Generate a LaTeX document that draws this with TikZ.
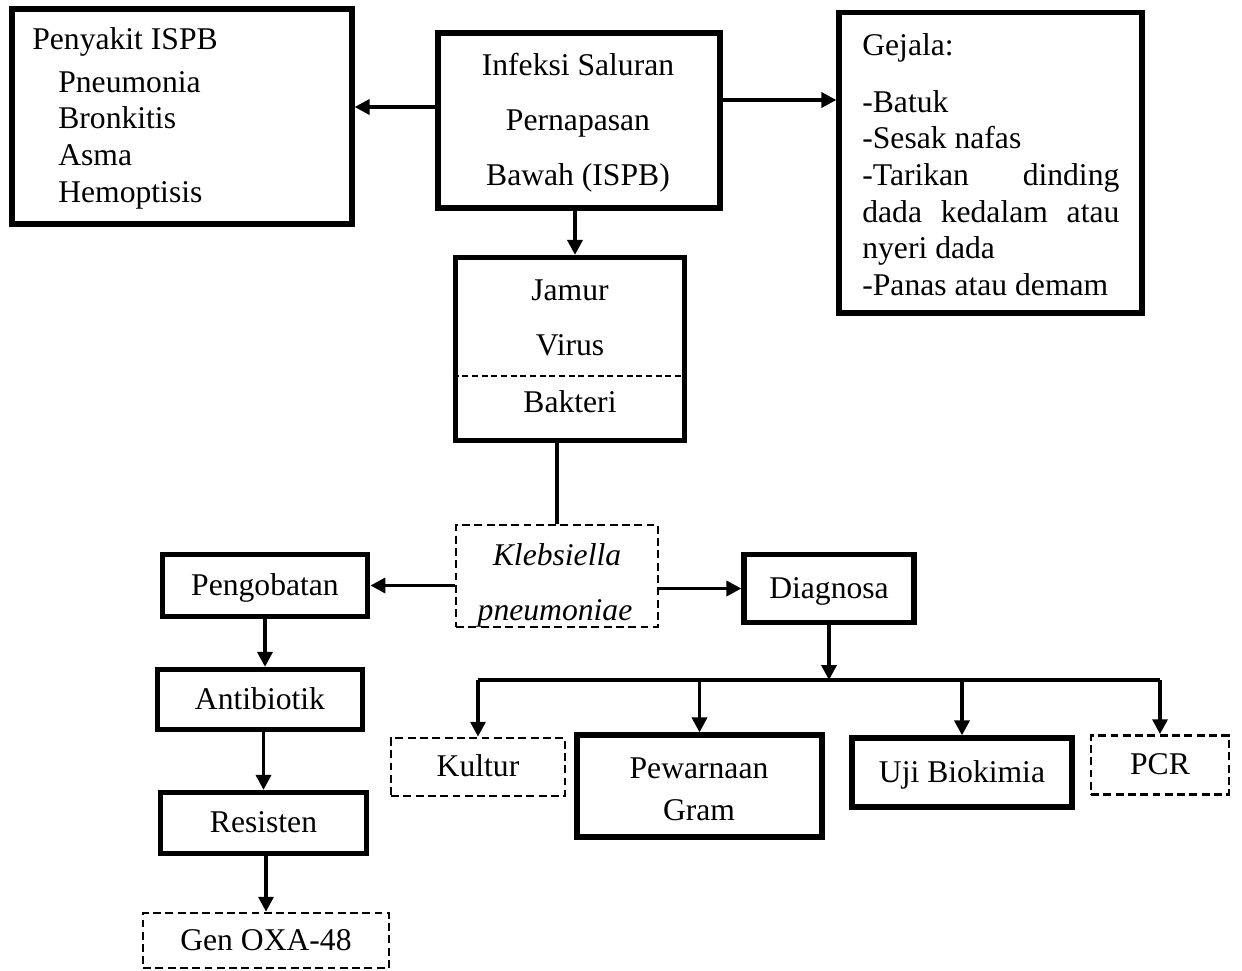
\documentclass[tikz,border=0pt]{standalone}
\usepackage{fontspec}
\setmainfont{Liberation Serif}
\usetikzlibrary{arrows.meta}
\begin{document}
\begin{tikzpicture}[x=0.02cm,y=-0.02cm,
  every node/.style={font=\fontsize{18}{21}\selectfont, inner sep=0pt},
  sbox/.style={draw, line width=3pt},
  dbox/.style={draw, line width=1.5pt, dash pattern=on 4.5pt off 2.5pt},
  one/.style={text height=13.5pt, text depth=2.2pt},
  arr/.style={-{Triangle[length=8.5pt,width=8.5pt]}, line width=2pt},
  link/.style={line width=2pt},
  divider/.style={line width=1pt, dash pattern=on 3.5pt off 2pt}]
\fill[white] (0,0) rectangle (1242,971);
\useasboundingbox (0,0) rectangle (1242,971);

% boxes
\node[sbox, minimum width=6.8cm, minimum height=4.3cm] (peny) at (182,116.5) {};
\node[sbox, minimum width=5.64cm, minimum height=3.5cm] (inf) at (579,120.5) {};
\node[sbox, minimum width=6.06cm, minimum height=6.01cm] (gej) at (990.5,162.75) {};
\node[sbox, minimum width=4.59cm, minimum height=3.66cm] (mik) at (570,349) {};
\node[dbox, minimum width=4.04cm, minimum height=2.04cm] (kleb) at (557,576) {};
\node[sbox, one, minimum width=4.11cm, minimum height=1.24cm] (peng) at (265,585.5) {Pengobatan};
\node[sbox, one, minimum width=4.1cm, minimum height=1.2cm] (anti) at (260,699.5) {Antibiotik};
\node[sbox, one, minimum width=4.12cm, minimum height=1.22cm] (res) at (263.5,823) {Resisten};
\node[dbox, one, minimum width=4.92cm, minimum height=1.1cm] (gen) at (266,940.5) {Gen OXA-48};
\node[sbox, one, minimum width=3.4cm, minimum height=1.36cm] (diag) at (829,588.5) {Diagnosa};
\node[dbox, one, minimum width=3.48cm, minimum height=1.16cm] (kul) at (478,767) {Kultur};
\node[sbox, minimum width=4.9cm, minimum height=2.04cm] (pew) at (699.5,786) {};
\node[sbox, one, minimum width=4.4cm, minimum height=1.38cm] (uji) at (962,772.5) {Uji Biokimia};
\node[dbox, one, minimum width=2.76cm, minimum height=1.18cm] (pcr) at (1160,765) {PCR};

% texts of multi-line boxes
\node[anchor=base west] (p1) at (32,49) {Penyakit ISPB};
\node[anchor=base west] (p2) at (58,92) {Pneumonia};
\node[anchor=base west] (p3) at (58,128) {Bronkitis};
\node[anchor=base west] (p4) at (58,165) {Asma};
\node[anchor=base west] (p5) at (58,202) {Hemoptisis};

\node[anchor=base] (i1) at (578,75) {Infeksi Saluran};
\node[anchor=base] (i2) at (578,130) {Pernapasan};
\node[anchor=base] (i3) at (578,185) {Bawah (ISPB)};

\node[anchor=base west] (g1) at (862,55) {Gejala:};
\node[anchor=base west] (g2) at (862,112) {-Batuk};
\node[anchor=base west] (g3) at (862,148) {-Sesak nafas};
\node[anchor=base west] (g4) at (862,185) {\makebox[146.3pt][s]{-Tarikan dinding}};
\node[anchor=base west] (g5) at (862,222) {\makebox[146.3pt][s]{dada kedalam atau}};
\node[anchor=base west] (g6) at (862,258) {nyeri dada};
\node[anchor=base west] (g7) at (862,295) {-Panas atau demam};

\node[anchor=base] (m1) at (570,300) {Jamur};
\node[anchor=base] (m2) at (570,355) {Virus};
\node[anchor=base] (m3) at (570,412) {Bakteri};
\coordinate (divY) at (0,376);
\draw[divider] (mik.west |- divY) -- (mik.east |- divY);

\node[anchor=base] (k1) at (557,565) {\itshape Klebsiella};
\node[anchor=base] (k2) at (555,620) {\itshape pneumoniae};

\node[anchor=base] (w1) at (699,778) {Pewarnaan};
\node[anchor=base] (w2) at (699,820) {Gram};

% connectors
\coordinate (yA) at (0,107);
\coordinate (yB) at (0,100);
\coordinate (xC) at (575,0);
\coordinate (busY) at (0,680);
\draw[arr] (inf.west |- yA) -- (peny.east |- yA);
\draw[arr] (inf.east |- yB) -- (gej.west |- yB);
\draw[arr] (inf.south -| xC) -- (mik.north -| xC);
\draw[link] (mik.south -| kleb.north) -- (kleb.north);
\draw[arr] (kleb.west |- peng.east) -- (peng.east);
\draw[arr] (kleb.east |- diag.west) -- (diag.west);
\draw[arr] (peng.south) -- (peng.south |- anti.north);
\draw[arr] (res.north |- anti.south) -- (res.north);
\draw[arr] (gen.north |- res.south) -- (gen.north);
\draw[arr] (diag.south) -- (diag.south |- busY);
\draw[link] (kul.north |- busY) -- (pcr.north |- busY);
\draw[arr] (kul.north |- busY) -- (kul.north);
\draw[arr] (pew.north |- busY) -- (pew.north);
\draw[arr] (uji.north |- busY) -- (uji.north);
\draw[arr] (pcr.north |- busY) -- (pcr.north);
\end{tikzpicture}
\end{document}
